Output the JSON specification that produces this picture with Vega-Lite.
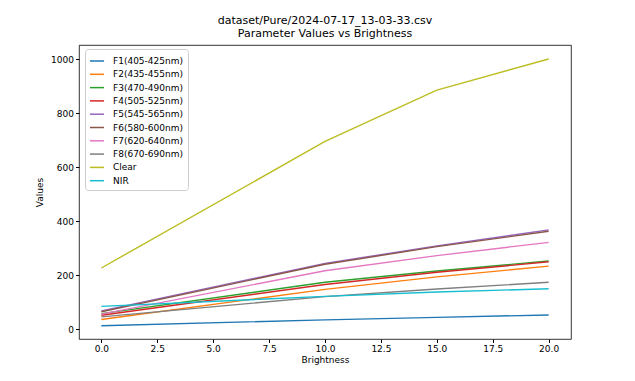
{
  "$schema": "https://vega.github.io/schema/vega-lite/v6.json",
  "autosize": {"type": "none"},
  "width": 492,
  "height": 294,
  "padding": {"left": 79, "top": 45, "right": 64, "bottom": 42},
  "background": "white",
  "title": {
    "text": ["dataset/Pure/2024-07-17_13-03-33.csv", "Parameter Values vs Brightness"],
    "font": "DejaVu Sans",
    "fontSize": 11,
    "fontWeight": "normal",
    "color": "black",
    "offset": 6,
    "lineHeight": 13
  },
  "config": {
    "font": "DejaVu Sans",
    "view": {"stroke": "black", "strokeWidth": 0.8},
    "axis": {
      "grid": false,
      "domain": false,
      "tickColor": "black",
      "tickSize": 3.5,
      "labelFontSize": 9,
      "labelColor": "black",
      "titleFontSize": 9,
      "titleFontWeight": "normal",
      "titleColor": "black",
      "labelFont": "DejaVu Sans",
      "titleFont": "DejaVu Sans"
    }
  },
  "data": {
    "values": [
      {"b": 0, "s": "F1(405-425nm)", "v": 12}, {"b": 10, "s": "F1(405-425nm)", "v": 34}, {"b": 15, "s": "F1(405-425nm)", "v": 43}, {"b": 20, "s": "F1(405-425nm)", "v": 52},
      {"b": 0, "s": "F2(435-455nm)", "v": 35}, {"b": 10, "s": "F2(435-455nm)", "v": 147}, {"b": 15, "s": "F2(435-455nm)", "v": 193}, {"b": 20, "s": "F2(435-455nm)", "v": 233},
      {"b": 0, "s": "F3(470-490nm)", "v": 57}, {"b": 10, "s": "F3(470-490nm)", "v": 173}, {"b": 15, "s": "F3(470-490nm)", "v": 215}, {"b": 20, "s": "F3(470-490nm)", "v": 252},
      {"b": 0, "s": "F4(505-525nm)", "v": 51}, {"b": 10, "s": "F4(505-525nm)", "v": 165}, {"b": 15, "s": "F4(505-525nm)", "v": 210}, {"b": 20, "s": "F4(505-525nm)", "v": 249},
      {"b": 0, "s": "F5(545-565nm)", "v": 67}, {"b": 10, "s": "F5(545-565nm)", "v": 243}, {"b": 15, "s": "F5(545-565nm)", "v": 308}, {"b": 20, "s": "F5(545-565nm)", "v": 367},
      {"b": 0, "s": "F6(580-600nm)", "v": 64}, {"b": 10, "s": "F6(580-600nm)", "v": 240}, {"b": 15, "s": "F6(580-600nm)", "v": 305}, {"b": 20, "s": "F6(580-600nm)", "v": 362},
      {"b": 0, "s": "F7(620-640nm)", "v": 55}, {"b": 10, "s": "F7(620-640nm)", "v": 216}, {"b": 15, "s": "F7(620-640nm)", "v": 272}, {"b": 20, "s": "F7(620-640nm)", "v": 321},
      {"b": 0, "s": "F8(670-690nm)", "v": 45}, {"b": 10, "s": "F8(670-690nm)", "v": 120}, {"b": 15, "s": "F8(670-690nm)", "v": 148}, {"b": 20, "s": "F8(670-690nm)", "v": 173},
      {"b": 0, "s": "Clear", "v": 226}, {"b": 10, "s": "Clear", "v": 695}, {"b": 15, "s": "Clear", "v": 885}, {"b": 20, "s": "Clear", "v": 1000},
      {"b": 0, "s": "NIR", "v": 84}, {"b": 10, "s": "NIR", "v": 121}, {"b": 15, "s": "NIR", "v": 137}, {"b": 20, "s": "NIR", "v": 149}
    ]
  },
  "mark": {"type": "line", "strokeWidth": 1.4, "clip": true},
  "encoding": {
    "x": {
      "field": "b", "type": "quantitative", "title": "Brightness",
      "scale": {"domain": [-1, 21], "nice": false, "zero": false},
      "axis": {"values": [0, 2.5, 5, 7.5, 10, 12.5, 15, 17.5, 20], "format": ".1f", "titlePadding": 2}
    },
    "y": {
      "field": "v", "type": "quantitative", "title": "Values",
      "scale": {"domain": [-37, 1052], "nice": false, "zero": false},
      "axis": {"values": [0, 200, 400, 600, 800, 1000], "format": "d", "titlePadding": 6}
    },
    "color": {
      "field": "s", "type": "nominal", "title": null,
      "scale": {
        "domain": ["F1(405-425nm)", "F2(435-455nm)", "F3(470-490nm)", "F4(505-525nm)", "F5(545-565nm)", "F6(580-600nm)", "F7(620-640nm)", "F8(670-690nm)", "Clear", "NIR"],
        "range": ["#1f77b4", "#ff7f0e", "#2ca02c", "#d62728", "#9467bd", "#8c564b", "#e377c2", "#7f7f7f", "#bcbd22", "#17becf"]
      },
      "legend": {
        "orient": "none",
        "legendX": 6,
        "legendY": 4,
        "padding": 4,
        "strokeColor": "#cccccc",
        "fillColor": "white",
        "cornerRadius": 3,
        "symbolType": "stroke",
        "symbolSize": 200,
        "symbolStrokeWidth": 1.5,
        "labelFontSize": 9,
        "labelColor": "black",
        "labelFont": "DejaVu Sans",
        "rowPadding": 0.3,
        "labelOffset": 8
      }
    }
  }
}
